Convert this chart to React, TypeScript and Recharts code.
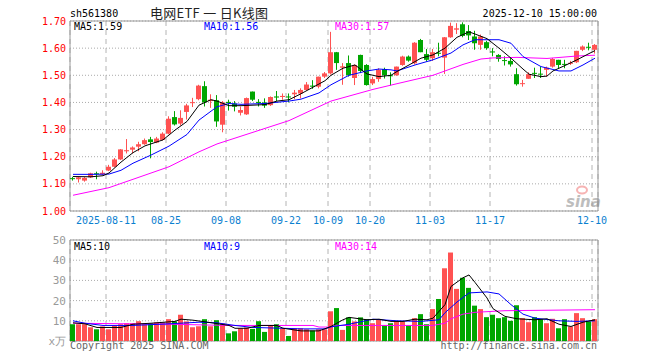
import { ComposedChart, Bar, Line, XAxis, YAxis, CartesianGrid, ReferenceArea } from "recharts";

const RED = "#ff5252";
const GREEN = "#00a600";
const MONO = "'DejaVu Sans Mono', monospace";

const TICK_POS = [6, 16, 26, 36, 43, 50, 60, 70, 87];
const TICK_LABELS = ["2025-08-11", "08-25", "09-08", "09-22", "10-09", "10-20", "11-03", "11-17", "12-10"];
const PRICE_TICKS = [1.0, 1.1, 1.2, 1.3, 1.4, 1.5, 1.6, 1.7];
const VOL_TICKS = [0, 10, 20, 30, 40, 50];

const OPEN = [1.121,1.117,1.112,1.124,1.139,1.135,1.149,1.163,1.190,1.220, 1.226,1.237,1.246,1.264,1.252,1.262,1.285,1.346,1.322,1.365, 1.398,1.412,1.460,1.405,1.408,1.318,1.402,1.396,1.362,1.356, 1.440,1.402,1.400,1.390,1.422,1.420,1.422,1.430,1.433,1.446, 1.462,1.458,1.495,1.507,1.585,1.528,1.545,1.490,1.575,1.538, 1.470,1.486,1.523,1.500,1.500,1.538,1.569,1.544,1.630,1.578, 1.563,1.583,1.565,1.640,1.668,1.688,1.663,1.643,1.612,1.622, 1.588,1.575,1.556,1.553,1.504,1.468,1.487,1.509,1.506,1.520, 1.532,1.557,1.542,1.543,1.548,1.594,1.605,1.594];
const HIGH = [1.126,1.126,1.125,1.141,1.145,1.150,1.170,1.195,1.228,1.265, 1.238,1.255,1.267,1.273,1.273,1.290,1.349,1.368,1.371,1.395, 1.417,1.465,1.478,1.430,1.427,1.405,1.410,1.405,1.385,1.418, 1.440,1.412,1.415,1.422,1.442,1.433,1.433,1.446,1.452,1.475, 1.482,1.495,1.512,1.660,1.586,1.545,1.573,1.540,1.576,1.541, 1.494,1.526,1.528,1.511,1.532,1.572,1.573,1.622,1.634,1.597, 1.597,1.620,1.641,1.694,1.692,1.695,1.685,1.664,1.650,1.627, 1.600,1.578,1.570,1.565,1.526,1.483,1.511,1.528,1.532,1.532, 1.564,1.557,1.557,1.553,1.590,1.610,1.620,1.615];
const LOW = [1.112,1.105,1.108,1.122,1.117,1.133,1.147,1.161,1.188,1.212, 1.212,1.220,1.244,1.194,1.250,1.260,1.283,1.315,1.315,1.337, 1.383,1.408,1.385,1.380,1.310,1.290,1.370,1.367,1.352,1.354, 1.405,1.385,1.380,1.387,1.405,1.410,1.400,1.412,1.415,1.444, 1.450,1.452,1.490,1.503,1.520,1.465,1.495,1.464,1.508,1.462, 1.464,1.476,1.488,1.462,1.498,1.535,1.550,1.540,1.585,1.550, 1.553,1.570,1.505,1.638,1.652,1.640,1.630,1.594,1.594,1.594, 1.570,1.550,1.536,1.532,1.462,1.458,1.487,1.490,1.490,1.495, 1.528,1.526,1.526,1.538,1.545,1.589,1.592,1.580];
const CLOSE = [1.118,1.124,1.122,1.139,1.136,1.141,1.163,1.190,1.227,1.224, 1.234,1.246,1.261,1.254,1.267,1.285,1.340,1.319,1.343,1.389, 1.401,1.462,1.400,1.410,1.330,1.400,1.398,1.384,1.372,1.416, 1.410,1.398,1.388,1.420,1.418,1.424,1.419,1.436,1.446,1.466, 1.458,1.495,1.507,1.585,1.545,1.533,1.500,1.538,1.516,1.464, 1.486,1.520,1.500,1.497,1.532,1.569,1.554,1.620,1.585,1.557, 1.585,1.580,1.640,1.682,1.673,1.645,1.647,1.618,1.643,1.600, 1.584,1.560,1.553,1.540,1.467,1.471,1.504,1.506,1.503,1.528, 1.560,1.538,1.540,1.546,1.590,1.606,1.602,1.612];
const VOLUME = [8.3,8.3,8.3,6.8,5.8,7.2,5.8,7.5,8.3,8.8, 8.8,9.8,8.3,8.7,9.2,9.2,10.8,9.7,13.0,9.7, 6.8,7.3,10.8,7.3,10.3,8.7,3.8,4.8,6.3,6.7, 6.0,9.8,4.5,7.7,8.3,6.3,2.5,6.3,6.3,5.8, 5.2,5.8,5.8,14.7,16.3,5.5,11.7,9.7,11.7,10.8, 8.8,10.8,7.7,8.8,9.7,9.7,7.7,11.3,13.3,8.3, 15.8,20.8,36.0,43.8,25.8,31.3,26.3,17.5,15.8,11.8, 13.0,11.3,11.8,10.0,17.7,11.3,9.3,11.8,10.8,8.8, 11.0,6.3,10.8,7.2,13.8,11.3,9.7,10.8];

// moving averages: [candle index, value]
const MA5 = [[0,1.127],[3,1.126],[5,1.130],[6,1.140],[8,1.180],[10,1.215],[12,1.240],[15,1.262],[17,1.298],[19,1.330],[21,1.390],[23,1.410],[24,1.405],[26,1.388],[28,1.388],[30,1.390],[32,1.392],[34,1.405],[36,1.410],[38,1.432],[40,1.456],[42,1.480],[43,1.500],[45,1.526],[47,1.538],[49,1.505],[51,1.495],[53,1.500],[54,1.514],[56,1.538],[58,1.563],[60,1.575],[62,1.600],[64,1.640],[66,1.660],[67,1.652],[69,1.635],[71,1.600],[73,1.563],[75,1.523],[76,1.504],[78,1.495],[79,1.497],[80,1.516],[82,1.536],[84,1.557],[86,1.580],[87,1.591]];
const MA10 = [[0,1.135],[3,1.135],[6,1.136],[8,1.150],[10,1.176],[13,1.206],[16,1.239],[19,1.282],[21,1.335],[24,1.384],[26,1.396],[28,1.393],[32,1.396],[36,1.405],[38,1.412],[41,1.435],[43,1.465],[46,1.500],[49,1.516],[51,1.523],[53,1.520],[54,1.516],[57,1.538],[60,1.557],[63,1.582],[65,1.612],[67,1.631],[71,1.631],[73,1.618],[75,1.569],[78,1.532],[81,1.516],[83,1.516],[85,1.538],[87,1.563]];
const MA30 = [[0,1.058],[6,1.086],[16,1.163],[21,1.218],[24,1.247],[30,1.290],[36,1.333],[43,1.405],[50,1.448],[54,1.469],[60,1.500],[65,1.540],[68,1.560],[70,1.564],[74,1.566],[79,1.562],[84,1.571],[87,1.574]];
const VMA5 = [[0,9.0],[2,8.5],[4,6.7],[8,6.7],[10,8.3],[13,8.8],[17,9.7],[18,10.8],[20,10.3],[22,9.5],[26,7.7],[27,6.3],[29,6.3],[31,7.7],[34,7.7],[35,6.3],[38,5.0],[41,5.0],[43,7.2],[45,10.5],[46,11.7],[49,10.5],[51,10.8],[53,9.7],[55,9.7],[57,10.8],[59,10.5],[60,11.3],[62,18.0],[63,27.0],[65,31.3],[66,32.7],[67,29.0],[69,21.3],[70,16.0],[72,12.2],[74,11.0],[77,10.5],[79,11.0],[81,8.3],[83,7.2],[85,9.3],[87,10.5]];
const VMA10 = [[0,10.0],[2,8.8],[5,7.7],[10,7.7],[16,8.5],[21,9.3],[24,9.0],[27,7.7],[30,6.7],[35,6.3],[38,6.0],[42,6.0],[43,7.0],[46,8.3],[50,10.8],[54,10.0],[58,9.7],[61,10.5],[62,14.0],[64,19.3],[66,23.8],[69,24.3],[71,23.3],[73,18.0],[75,13.3],[77,11.3],[81,10.0],[84,9.7],[87,10.0]];
const VMA30 = [[0,8.8],[10,8.5],[16,8.3],[26,7.7],[40,7.7],[41,6.9],[43,6.9],[44,7.7],[60,7.7],[62,8.8],[63,11.0],[65,13.3],[67,14.2],[72,15.0],[87,15.5]];

const pick = (list: number[][], i: number) => {
  const f = list.find((p) => p[0] === i);
  return f ? f[1] : null;
};

const rows = CLOSE.map((c, i) => ({
  x: i + 0.5,
  o: OPEN[i], h: HIGH[i], l: LOW[i], c,
  v: VOLUME[i],
  ma5: pick(MA5, i), ma10: pick(MA10, i), ma30: pick(MA30, i),
  vma5: pick(VMA5, i), vma10: pick(VMA10, i), vma30: pick(VMA30, i),
}));

function Candle(props: any) {
  const { x, y, width, height, payload } = props;
  if (!payload) return null;
  const { o, h, l, c } = payload;
  const color = c >= o ? RED : GREEN;
  const k = height / (h - l);
  const bx = Math.round(x);
  const cx = bx + 2.5;
  let top = y + (h - Math.max(o, c)) * k;
  let bot = y + (h - Math.min(o, c)) * k;
  if (bot - top < 1) bot = top + 1;
  return (
    <g>
      <line x1={cx} x2={cx} y1={y} y2={y + height} stroke={color} strokeWidth={1} />
      <rect x={bx} y={top} width={5} height={bot - top} fill={color} />
    </g>
  );
}

function VolBar(props: any) {
  const { x, y, width, height, payload } = props;
  if (!payload) return null;
  return <rect x={Math.round(x)} y={y} width={5} height={height} fill={payload.c >= payload.o ? RED : GREEN} />;
}

const fmtDate = (v: number) => TICK_LABELS[TICK_POS.indexOf(v)] ?? "";

export default function App() {
  return (
    <div style={{ position: "absolute", left: 0, top: 0, width: 660, height: 360, background: "#fff" }}>
      <div style={{ position: "absolute", left: 0, top: 0 }}>
        <ComposedChart width={660} height={230} data={rows} margin={{ top: 21, right: 62, bottom: 0, left: 10 }}>
          <CartesianGrid vertical={false} stroke="#aaa" strokeDasharray="1 2" />
          <CartesianGrid horizontal={false} stroke="#b4b4b4" strokeDasharray="5 4" />
          <XAxis dataKey="x" type="number" domain={[0, 88]} ticks={TICK_POS} interval={0} tickFormatter={fmtDate}
            tickLine={false} axisLine={false} tickSize={0} tickMargin={6} height={19}
            tick={{ fill: "#0a80d0", fontSize: 10, fontFamily: MONO }} />
          <YAxis domain={[1, 1.7]} ticks={PRICE_TICKS} interval={0} tickFormatter={(v: number) => v.toFixed(2)}
            width={60} tickSize={0} tickMargin={4} axisLine={false} tickLine={false}
            tick={{ fill: "#ff0000", fontSize: 10, fontFamily: MONO }} />
          <ReferenceArea x1={0} x2={88} y1={1} y2={1.7} fill="none" stroke="#999" strokeOpacity={1} />
          <Bar dataKey={(d: any) => [d.l, d.h]} barSize={5} shape={<Candle />} isAnimationActive={false} />
          <Line dataKey="ma30" stroke="#ff00ff" strokeWidth={1} dot={false} connectNulls isAnimationActive={false} />
          <Line dataKey="ma10" stroke="#0000ff" strokeWidth={1} dot={false} connectNulls isAnimationActive={false} />
          <Line dataKey="ma5" stroke="#000000" strokeWidth={1} dot={false} connectNulls isAnimationActive={false} />
        </ComposedChart>
      </div>
      <div style={{ position: "absolute", left: 0, top: 230 }}>
        <ComposedChart width={660} height={130} data={rows} margin={{ top: 10, right: 62, bottom: 19, left: 10 }}>
          <CartesianGrid vertical={false} stroke="#aaa" strokeDasharray="1 2" />
          <CartesianGrid horizontal={false} stroke="#b4b4b4" strokeDasharray="5 4" />
          <XAxis dataKey="x" type="number" domain={[0, 88]} ticks={TICK_POS} hide />
          <YAxis domain={[0, 50]} ticks={VOL_TICKS} interval={0} tickFormatter={(v: number) => (v === 0 ? "x万" : String(v))}
            width={60} tickSize={0} tickMargin={4} axisLine={false} tickLine={false}
            tick={{ fill: "#999", fontSize: 11, fontFamily: MONO }} />
          <ReferenceArea x1={0} x2={88} y1={0} y2={50} fill="none" stroke="#999" strokeOpacity={1} />
          <Bar dataKey="v" barSize={5} shape={<VolBar />} isAnimationActive={false} />
          <Line dataKey="vma30" stroke="#ff00ff" strokeWidth={1} dot={false} connectNulls isAnimationActive={false} />
          <Line dataKey="vma10" stroke="#0000ff" strokeWidth={1} dot={false} connectNulls isAnimationActive={false} />
          <Line dataKey="vma5" stroke="#000000" strokeWidth={1} dot={false} connectNulls isAnimationActive={false} />
        </ComposedChart>
      </div>
      <svg width={660} height={360} style={{ position: "absolute", left: 0, top: 0, pointerEvents: "none" }}>
        <g fontFamily={MONO} fontSize={10}>
          <text x={70} y={17} fill="#000">sh561380</text>
          <text x={597} y={17} fill="#000" textAnchor="end">2025-12-10 15:00:00</text>
          <text x={74} y={30} fill="#000">MA5:1.59</text>
          <text x={204} y={30} fill="#0000ff">MA10:1.56</text>
          <text x={335} y={30} fill="#ff00ff">MA30:1.57</text>
          <text x={74} y={250} fill="#000">MA5:10</text>
          <text x={204} y={250} fill="#0000ff">MA10:9</text>
          <text x={335} y={250} fill="#ff00ff">MA30:14</text>
          <text x={70} y={349} fill="#666">Copyright 2025 SINA.COM</text>
          <text x={597} y={349} fill="#666" textAnchor="end">http://finance.sina.com.cn</text>
        </g>
        <text x={150} y={18} fill="#222" fontSize={13} fontFamily="'Noto Sans CJK SC', sans-serif" textLength={118}>电网ETF 一 日K线图</text>
        <ellipse cx={582} cy={190} rx={5} ry={3.5} fill="none" stroke="#f08080" strokeWidth={2} opacity={0.6} />
        <text x={566} y={207} fill="#888" opacity={0.55} fontSize={15} fontStyle="italic" fontWeight="bold" fontFamily="'DejaVu Sans', sans-serif">sina</text>
      </svg>
    </div>
  );
}
